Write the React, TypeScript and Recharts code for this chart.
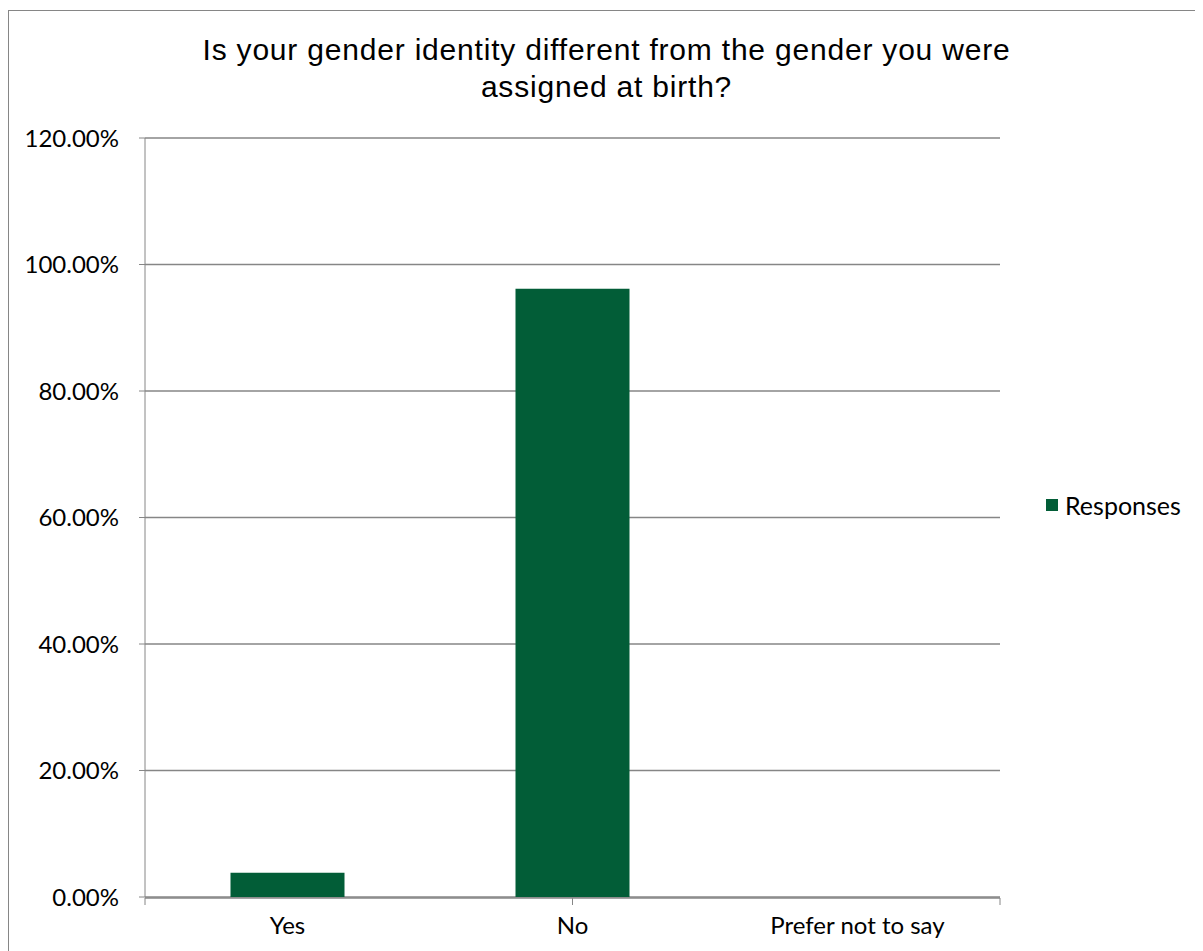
import { BarChart, Bar, XAxis, YAxis, CartesianGrid, Legend } from 'recharts'

const categories = ['Yes', 'No', 'Prefer not to say']
const responses = [3.85, 96.15, 0]
const yTicks = [0, 20, 40, 60, 80, 100, 120]
const edgeTicks = [0, 1, 2, 3]

const GREEN = '#025D37'
const GRAY = '#868686'
const LABEL_FONT = 'Lato, "Open Sans", sans-serif'

const data = categories.map((name, i) => ({ name, Responses: responses[i] }))

function LegendBox() {
  return (
    <div style={{ display: 'flex', alignItems: 'center', fontFamily: LABEL_FONT, fontSize: 25, color: '#000' }}>
      <span style={{ width: 12, height: 12, background: GREEN, display: 'inline-block', marginRight: 7 }} />
      Responses
    </div>
  )
}

export default function App() {
  return (
    <div
      style={{
        position: 'relative',
        width: 1197,
        height: 943,
        border: `1px solid ${GRAY}`,
        boxSizing: 'border-box',
        background: '#fff',
        marginTop: 2,
      }}
    >
      <div
        style={{
          position: 'absolute',
          left: 0,
          right: 0,
          top: 20,
          textAlign: 'center',
          fontFamily: '"Liberation Sans", Arial, sans-serif',
          fontSize: 30,
          letterSpacing: 0.8,
          lineHeight: '37px',
          color: '#000',
        }}
      >
        Is your gender identity different from the gender you were
        <br />
        assigned at birth?
      </div>
      <BarChart
        width={1195}
        height={941}
        data={data}
        barCategoryGap="30%"
        margin={{ top: 127, right: 204, bottom: 53, left: 36 }}
      >
        <CartesianGrid xAxisId="cat" vertical={false} stroke={GRAY} strokeWidth={1.3} />
        {/* category labels; its height is kept at 1 so the edge ticks sit right under the plot */}
        <XAxis
          xAxisId="cat"
          dataKey="name"
          height={1}
          axisLine={false}
          tickLine={false}
          tickMargin={14}
          tick={{ fill: '#000', fontSize: 24, fontFamily: LABEL_FONT }}
        />
        {/* tick marks between the categories, as in Excel */}
        <XAxis
          xAxisId="edges"
          type="number"
          domain={[0, 3]}
          ticks={edgeTicks}
          tick={() => <g />}
          tickSize={7}
          height={1}
          stroke={GRAY}
          axisLine={{ stroke: GRAY, strokeWidth: 1.5 }}
        />
        <YAxis
          width={100}
          domain={[0, 120]}
          ticks={yTicks}
          interval={0}
          tickFormatter={(v: number) => `${v.toFixed(2)}%`}
          stroke={GRAY}
          tickSize={6}
          tickMargin={20}
          tick={{ fill: '#000', fontSize: 24, fontFamily: LABEL_FONT }}
        />
        <Legend
          layout="horizontal"
          verticalAlign="middle"
          align="center"
          content={<LegendBox />}
          wrapperStyle={{ position: 'absolute', left: 1037, top: 479, width: 160 }}
        />
        <Bar xAxisId="cat" dataKey="Responses" fill={GREEN} isAnimationActive={false} />
      </BarChart>
    </div>
  )
}
